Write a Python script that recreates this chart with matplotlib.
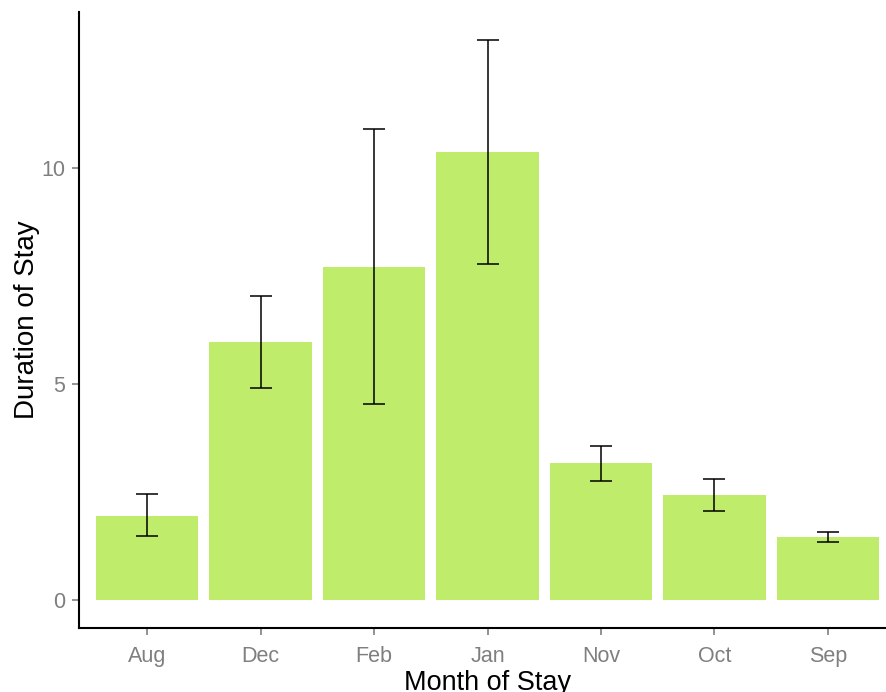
import matplotlib
matplotlib.use("Agg")
import matplotlib.pyplot as plt
import numpy as np

months = ["Aug", "Dec", "Feb", "Jan", "Nov", "Oct", "Sep"]
mean_stay = [1.95, 5.96, 7.70, 10.36, 3.16, 2.42, 1.46]
err_low = [1.47, 4.91, 4.53, 7.76, 2.76, 2.06, 1.34]
err_high = [2.44, 7.03, 10.89, 12.95, 3.56, 2.79, 1.58]
y_ticks = [0, 5, 10]

plt.rcParams["font.family"] = ["Liberation Sans", "DejaVu Sans"]

W, H = 886, 692
fig = plt.figure(figsize=(W / 100, H / 100), dpi=100)
left, right, top, bottom = 79, 896, 12, 628
ax = fig.add_axes([left / W, 1 - bottom / H, (right - left) / W, (bottom - top) / H])

x = np.arange(1, len(months) + 1)
mean_arr = np.array(mean_stay)
yerr = np.vstack([mean_arr - np.array(err_low), np.array(err_high) - mean_arr])

ax.bar(x, mean_arr, width=0.9, color="#bfec6a", zorder=2)
ax.errorbar(x, mean_arr, yerr=yerr, fmt="none", ecolor="black",
            elinewidth=1.1, capsize=8, capthick=1.1, zorder=3)

ymax = max(err_high)
pad = 0.05 * ymax
ax.set_ylim(-pad, ymax + pad)
ax.set_xlim(0.4, len(months) + 0.6)

ax.set_xticks(x)
ax.set_xticklabels(months)
ax.set_yticks(y_ticks)
ax.set_yticklabels([str(t) for t in y_ticks])

for s in ["top", "right"]:
    ax.spines[s].set_visible(False)
for s in ["left", "bottom"]:
    ax.spines[s].set_linewidth(1.5)
    ax.spines[s].set_color("black")

ax.tick_params(axis="both", colors="#7f7f7f", labelsize=15.5, length=5, width=1.2)
ax.tick_params(axis="x", pad=8)
ax.tick_params(axis="y", pad=5)

ax.set_xlabel("Month of Stay", fontsize=19.5, color="black", labelpad=2)
ax.set_ylabel("Duration of Stay", fontsize=20, color="black", labelpad=1)

fig.savefig("out.png", dpi=100)
